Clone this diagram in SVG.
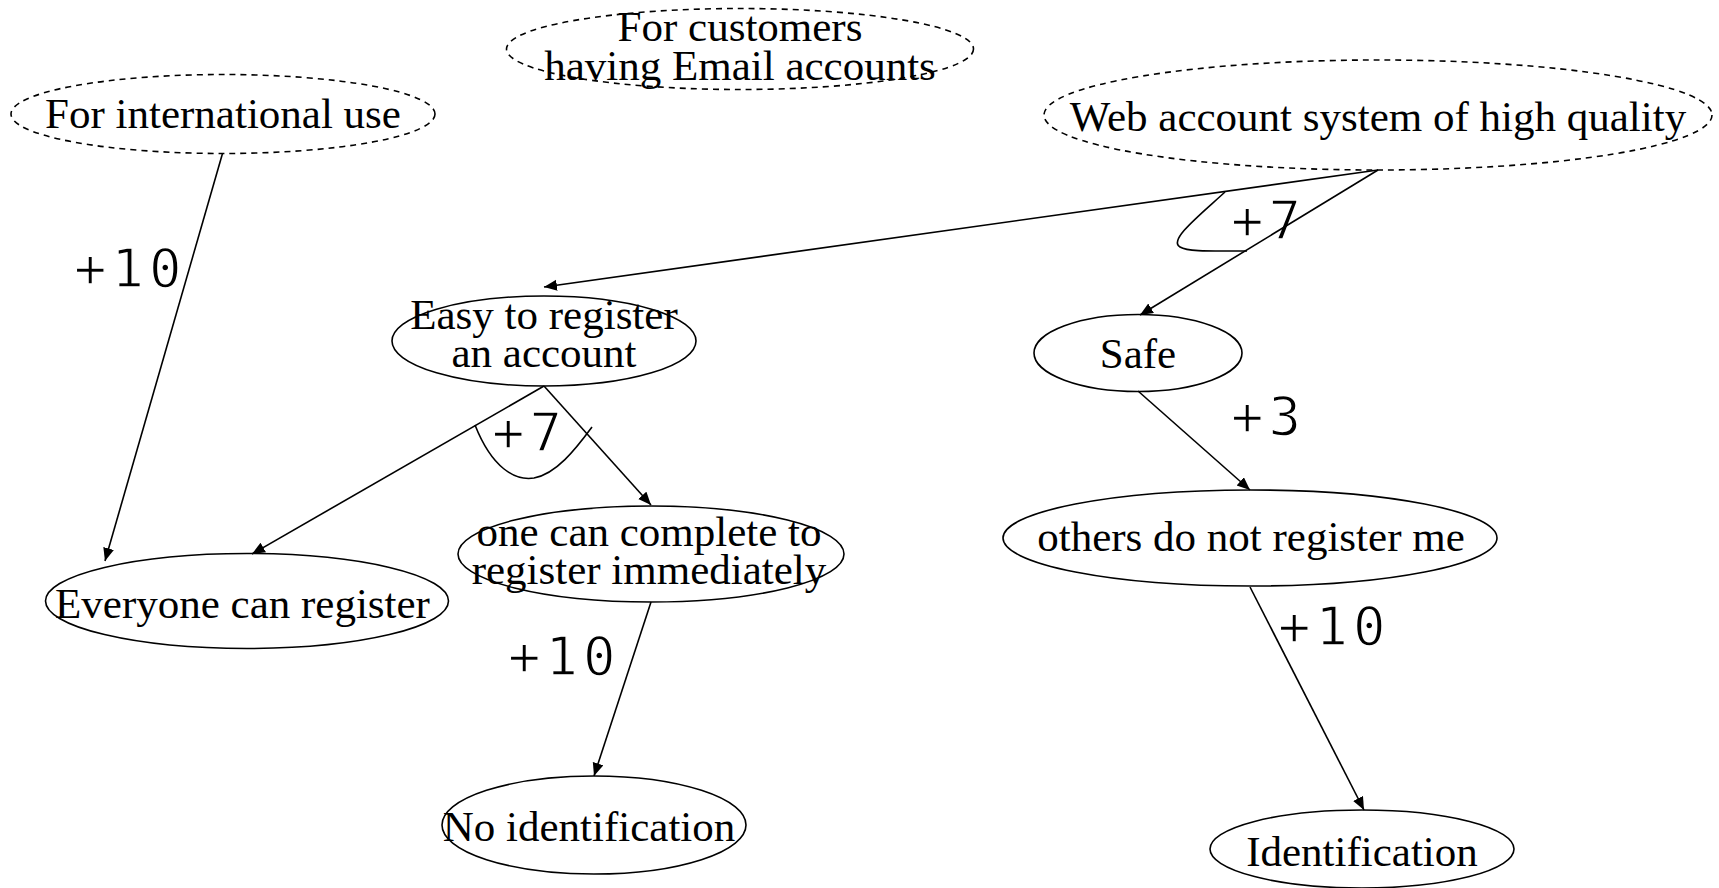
<svg xmlns="http://www.w3.org/2000/svg" width="1719" height="888" viewBox="0 0 1719 888">
  <style>
    .node ellipse { fill: none; stroke: #000; stroke-width: 1.6; }
    .soft ellipse { stroke-dasharray: 6 5; }
    .node text { font-family: "Liberation Serif", "Times New Roman", serif; font-size: 43px; fill: #000; text-anchor: middle; }
    .edges line, .edges path { fill: none; stroke: #000; stroke-width: 1.6; }
    /* light monospace weights: a thin white outline trims the strokes */
    .weight { font-family: "DejaVu Sans Mono", monospace; font-size: 54px; letter-spacing: 5px; fill: #000; stroke: #fff; stroke-width: 1.4px; }
  </style>
  <defs>
    <marker id="arrow" markerUnits="userSpaceOnUse" markerWidth="14" markerHeight="12" refX="13" refY="5.5" orient="auto">
      <path d="M0,0 L13,5.5 L0,11 z" fill="#000"/>
    </marker>
  </defs>

  <!-- connectors -->
  <g id="edges" class="edges">
    <!-- weights (drawn first so the lines stay on top) -->
    <text class="weight" x="74" y="287">+10</text>
    <text class="weight" x="1231" y="239">+7</text>
    <text class="weight" x="492" y="451">+7</text>
    <text class="weight" x="1231" y="435">+3</text>
    <text class="weight" x="508" y="675">+10</text>
    <text class="weight" x="1278" y="645">+10</text>
    <line x1="222.5" y1="153.5" x2="105" y2="561" marker-end="url(#arrow)"/>
    <line x1="1378" y1="170" x2="544" y2="287" marker-end="url(#arrow)"/>
    <line x1="1378" y1="170" x2="1140" y2="315" marker-end="url(#arrow)"/>
    <line x1="544" y1="386" x2="252" y2="554" marker-end="url(#arrow)"/>
    <line x1="544" y1="386" x2="651" y2="505" marker-end="url(#arrow)"/>
    <line x1="651" y1="602" x2="594" y2="776" marker-end="url(#arrow)"/>
    <line x1="1138" y1="391" x2="1250" y2="490" marker-end="url(#arrow)"/>
    <line x1="1250" y1="587" x2="1364" y2="810" marker-end="url(#arrow)"/>
    <!-- AND arcs joining sibling edges -->
    <path d="M1225,192 C1200,215 1168,240 1180,247 C1188,252 1212,251 1247,251"/>
    <path d="M475,425 C492,468 515,481 534,478 C556,474 575,450 592,427"/>
  </g>

  <g id="intl" class="node soft">
    <ellipse cx="223" cy="114" rx="212" ry="39.5"/>
    <text x="223" y="128">For international use</text>
  </g>
  <g id="email" class="node soft">
    <ellipse cx="740" cy="49" rx="233.5" ry="40.5"/>
    <text x="740" y="41">For customers</text>
    <text x="740" y="80">having Email accounts</text>
  </g>
  <g id="quality" class="node soft">
    <ellipse cx="1378" cy="115" rx="334" ry="55"/>
    <text x="1378" y="131">Web account system of high quality</text>
  </g>
  <g id="easy" class="node">
    <ellipse cx="544" cy="341" rx="152" ry="45"/>
    <text x="544" y="329">Easy to register</text>
    <text x="544" y="367">an account</text>
  </g>
  <g id="safe" class="node">
    <ellipse cx="1138" cy="353" rx="104" ry="38.5"/>
    <text x="1138" y="368">Safe</text>
  </g>
  <g id="everyone" class="node">
    <ellipse cx="247" cy="601" rx="201.5" ry="47.5"/>
    <text x="242.5" y="618">Everyone can register</text>
  </g>
  <g id="immediate" class="node">
    <ellipse cx="651" cy="554" rx="193" ry="48"/>
    <text x="649" y="546">one can complete to</text>
    <text x="649" y="584">register immediately</text>
  </g>
  <g id="others" class="node">
    <ellipse cx="1250" cy="538" rx="247" ry="48"/>
    <text x="1251" y="551">others do not register me</text>
  </g>
  <g id="noid" class="node">
    <ellipse cx="594" cy="825" rx="152" ry="49"/>
    <text x="589" y="841">No identification</text>
  </g>
  <g id="id" class="node">
    <ellipse cx="1362" cy="849" rx="152" ry="39"/>
    <text x="1362" y="866">Identification</text>
  </g>
</svg>
